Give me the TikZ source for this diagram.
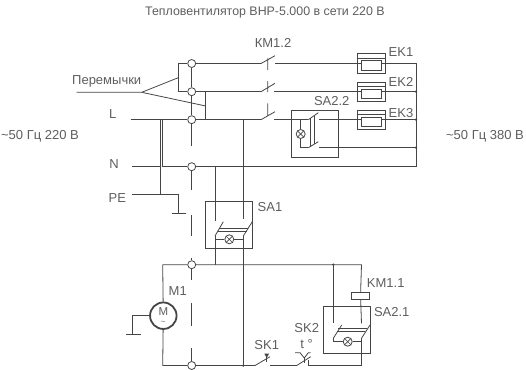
\documentclass[tikz,border=0pt]{standalone}
\usepackage{fontspec}
\setmainfont{Liberation Sans}
\usetikzlibrary{calc}

\definecolor{wirecol}{gray}{0.27}
\definecolor{textcol}{gray}{0.37}
\tikzset{
  wire/.style={draw=wirecol, line width=0.8pt},
  junction/.style={circle, draw=wirecol, line width=0.8pt, inner sep=0pt, minimum size=8pt},
  soldered/.style={circle, fill=wirecol, inner sep=0pt, minimum size=2.6pt},
  switchbox/.style={draw=wirecol, line width=0.8pt, inner sep=0pt, minimum width=47pt, minimum height=46.5pt},
  heater/.style={draw=wirecol, line width=0.8pt, inner sep=0pt, minimum width=28.4pt, minimum height=19.3pt},
  heatercore/.style={draw=wirecol, line width=0.8pt, inner sep=0pt, minimum width=19.3pt, minimum height=9.5pt},
  lamp/.style={circle, draw=wirecol, line width=0.8pt, inner sep=0pt, minimum size=9pt,
    path picture={\draw[wirecol, line width=0.7pt]
      (path picture bounding box.south west) -- (path picture bounding box.north east)
      (path picture bounding box.north west) -- (path picture bounding box.south east);}},
  tag/.style={text=textcol, inner sep=0pt, font=\fontsize{13}{15}\selectfont}
}

\begin{document}
\begin{tikzpicture}[x=1pt, y=-1pt]
    \useasboundingbox (0,0) rectangle (526,369);

    % labels
    \node[tag, font=\fontsize{12.4}{14}\selectfont] (title) at (265, 12) {Тепловентилятор ВНР-5.000 в сети 220 В};
    \node[tag] (left) at (40, 136) {\textasciitilde 50 Гц 220 В};
    \node[tag] (right) at (485, 136) {\textasciitilde 50 Гц 380 В};
    \node[tag] (bridges) at (106.7, 81) {Перемычки};
    \node[tag] (Llabel) at (112.7, 114.5) {L};
    \node[tag] (Nlabel) at (114, 164.5) {N};
    \node[tag] (PElabel) at (117.3, 198.5) {PE};
    \node[tag] (km12) at (273, 43) {КМ1.2};
    \node[tag] (ek1label) at (401, 52.5) {EK1};
    \node[tag] (ek2label) at (401, 81.5) {EK2};
    \node[tag] (ek3label) at (401, 113) {EK3};
    \node[tag] (sa22) at (331.7, 101.5) {SA2.2};
    \node[tag] (sa1label) at (270, 207.5) {SA1};
    \node[tag] (m1label) at (177.7, 291.5) {M1};
    \node[tag] (km11) at (385.7, 283.5) {KM1.1};
    \node[tag] (sa21) at (391.7, 312.5) {SA2.1};
    \node[tag] (sk2label) at (306.7, 328.5) {SK2};
    \node[tag] (sk1label) at (266.7, 345) {SK1};
    \node[tag] (tlabel) at (306.7, 344) {t °};

    % junctions
    \node[junction] (j1) at (191.7, 63.5) {};
    \node[junction] (j2) at (191.7, 91.7) {};
    \node[junction] (j3) at (191.7, 119.7) {};
    \node[junction] (j4) at (191.7, 166.7) {};
    \node[junction] (j5) at (191.7, 264.7) {};
    \node[junction] (j6) at (191.7, 365.5) {};

    % boxes
    \node[heater] (ek1) at (371.5, 63.5) {};
    \node[heater] (ek2) at (371.5, 91.7) {};
    \node[heater] (ek3) at (371.5, 119.7) {};
    \node[heatercore] (core1) at (371.3, 65.5) {};
    \node[heatercore] (core2) at (371.3, 93.7) {};
    \node[heatercore] (core3) at (371.3, 121.7) {};
    \node[switchbox] (sa2) at (314.5, 134) {};
    \node[switchbox] (sa1) at (229.2, 224.8) {};
    \node[switchbox] (sa3) at (347, 329.7) {};
    \node[draw=wirecol, line width=0.8pt, inner sep=0pt, minimum width=17.6pt, minimum height=7pt] (km) at (360.5, 295.5) {};
    \node[circle, draw=wirecol, line width=1.8pt, inner sep=0pt, minimum size=26.5pt] (motor) at (163.3, 315.7) {};
    \node[tag, font=\fontsize{11.5}{13}\selectfont] (mm) at (163.3, 311.5) {M};
    \node[tag, font=\fontsize{8}{9}\selectfont] (mt) at (163.3, 323) {\textasciitilde};
    \node[lamp] (lamp2) at (300.7, 134) {};
    \node[lamp] (lamp1) at (229.3, 239.3) {};
    \node[lamp] (lamp3) at (347.7, 341.7) {};

    % free ends
    \coordinate (lin) at (130.7, 119.7);
    \coordinate (nin) at (131.7, 166.7);
    \coordinate (pein) at (131.7, 194.3);
    \coordinate (pegnd) at (178.3, 194.3);
    \coordinate (nodeA) at (160, 119.7);
    \coordinate (nodeB) at (162.7, 119.7);
    \coordinate (nodeC) at (162.7, 166.7);
    \coordinate (nodeD) at (160, 194.3);
    \coordinate (nodeE) at (243.3, 119.7);
    \coordinate (nodeF) at (215, 166.7);
    \coordinate (nodeG) at (243.3, 166.7);
    \coordinate (nodeH) at (215, 264.7);
    \coordinate (nodeI) at (243.3, 264.7);
    \coordinate (nodeK) at (243.3, 365.5);
    \coordinate (c1) at (261, 63.5);
    \coordinate (c2) at (261, 91.7);
    \coordinate (c3) at (261, 119.7);
    \coordinate (o1) at (275, 63.5);
    \coordinate (o2) at (274, 91.7);
    \coordinate (o3) at (274, 119.7);
    \coordinate (railtop) at (416, 63.5);
    \coordinate (railbot) at (416, 166.7);
    \coordinate (top) at (162.7, 264.7);
    \coordinate (bot) at (162.7, 365.5);
    \coordinate (topright) at (361.5, 264.7);
    \coordinate (topmid) at (333.3, 264.7);

    % mains and buses
    \draw[wire] (lin) -- (j3) -- (c3);
    \draw[wire] (j1) -- (c1);
    \draw[wire] (j2) -- (c2);
    \draw[wire] (j1) -- (j2) -- (j3);
    \draw[wire] (nin) -- (160, 166.7);
    \draw[wire] (nodeC) -- (j4) -- (railbot) -- (railtop) -- (ek1);
    \draw[wire] (nodeA) -- (nodeD);
    \draw[wire] (nodeB) -- (nodeC);
    \draw[wire] (pein) -- (pegnd) -- ++(0, 19);
    \draw[wire] (172.3, 213.3) -- (185.7, 213.3);

    % bridges
    \draw[wire] (j1) -- (178.3, 63.5) -- (178.3, 91.7) -- (j2);
    \draw[wire] (205.7, 91.7) -- (205.7, 119.7);
    \draw[wire] (76.7, 92.3) -- (141.7, 92.3) -- (178.3, 77.7);
    \draw[wire] (141.7, 92.3) -- (205.7, 106);

    % dashed link
    \draw[wire] (j3) -- (191.7, 145.7);
    \draw[wire] (j4) -- (191.7, 190);
    \draw[wire] (191.7, 215) -- (191.7, 236);
    \draw[wire] (191.7, 258) -- (j5);
    \draw[wire] (j5) -- (191.7, 280);
    \draw[wire] (191.7, 303) -- (191.7, 326);
    \draw[wire] (191.7, 348) -- (j6);

    % contacts KM1.2
    \draw[wire] (c1) -- (275, 55.7) (267.7, 58.3) -- (267.7, 70);
    \draw[wire] (c2) -- (275, 83.3) (267.7, 81) -- (267.7, 92);
    \draw[wire] (c3) -- (275, 111.7) (267.7, 103.3) -- (267.7, 115.7);
    \draw[wire] (o1) -- (ek1);
    \draw[wire] (o2) -- (ek2);
    \draw[wire] (o3) -- (308.3, 119.7);
    \draw[wire] (319.3, 119.7) -- (ek3);
    \draw[wire] (ek2) -- (416, 91.7);
    \draw[wire] (ek3) -- (416, 119.7);
    \draw[wire] (319.3, 147.7) -- (416, 147.7);
    \draw[wire] (ek1.west) -- (core1.west |- ek1.west) (ek1.east) -- (core1.east |- ek1.east);
    \draw[wire] (ek2.west) -- (core2.west |- ek2.west) (ek2.east) -- (core2.east |- ek2.east);
    \draw[wire] (ek3.west) -- (core3.west |- ek3.west) (ek3.east) -- (core3.east |- ek3.east);
    \draw[wire] (357.3, 58.3) -- (385.7, 58.3);
    \draw[wire] (357.3, 86.5) -- (385.7, 86.5);
    \draw[wire] (357.3, 114.5) -- (385.7, 114.5);
    \node[soldered] (s1) at (416, 91.7) {};
    \node[soldered] (s2) at (416, 119.7) {};
    \node[soldered] (s3) at (416, 147.7) {};

    % SA2.2
    \draw[wire] (300.7, 119.7) -- (lamp2) -- (300.7, 147.7) -- (308.3, 147.7);
    \draw[wire] (308.3, 119.7) -- (318.3, 112.7);
    \draw[wire] (308.3, 147.7) -- (318.3, 141.7);
    \draw[wire] (310.7, 118) -- (310.7, 146.5) (314.3, 115.5) -- (314.3, 144.3);

    % SA1
    \draw[wire] (nodeE) -- (nodeG) -- (243.3, 219.3);
    \draw[wire] (nodeF) -- (215, 221);
    \draw[wire] (215, 236) -- (223.3, 221.7);
    \draw[wire] (243.3, 236) -- (252.3, 221.7);
    \draw[wire] (219.3, 228.3) -- (248.3, 228.3) (218, 231) -- (246.5, 231);
    \draw[wire] (215, 239.3) -- (lamp1) -- (243.3, 239.3);
    \draw[wire] (215, 236) -- (nodeH);
    \draw[wire] (243.3, 236) -- (nodeI) -- (nodeK);

    % motor loop
    \draw[wire] (top) -- (j5) -- (topright) -- (km);
    \draw[wire] (top) -- (motor) -- (bot) -- (j6) -- (nodeK) -- (255, 365.5);
    \draw[wire] (motor) -- (132.7, 315.7) -- (132.7, 334.3);
    \draw[wire] (126, 334.3) -- (140.7, 334.3);
    \node[soldered] (s4) at (topmid) {};
    \node[soldered] (s5) at (nodeK) {};

    % SA2.1
    \draw[wire] (topmid) -- (333.3, 323.3);
    \draw[wire] (km) -- (361.5, 323.3);
    \draw[wire] (333.3, 338.3) -- (341.7, 325);
    \draw[wire] (361.5, 338.3) -- (370, 325);
    \draw[wire] (338.3, 328.3) -- (366.7, 328.3) (336.5, 331) -- (365, 331);
    \draw[wire] (333.3, 338.3) -- (333.3, 341.7) -- (lamp3) -- (361.5, 341.7);
    \draw[wire] (361.5, 338.3) -- (361.5, 365.5) -- (308.3, 365.5);

    % SK1, SK2
    \draw[wire] (255, 365.5) -- (270, 356.7);
    \draw[wire] (266.7, 356.7) -- (266.7, 362);
    \draw[wire, fill=wirecol] (265, 354) -- (268.4, 354) -- (266.7, 357) -- cycle;
    \draw[wire] (270, 365.5) -- (296.7, 365.5) -- (310.7, 356.7);
    \draw[wire] (304.3, 358) -- (304.3, 363);
    \draw[wire] (295, 352.7) -- (300, 352.7) -- (304.3, 358) -- (308.3, 352.7) -- (310.7, 352.7);
    \draw[wire] (308.3, 360) -- (308.3, 365.5);
\end{tikzpicture}
\end{document}
